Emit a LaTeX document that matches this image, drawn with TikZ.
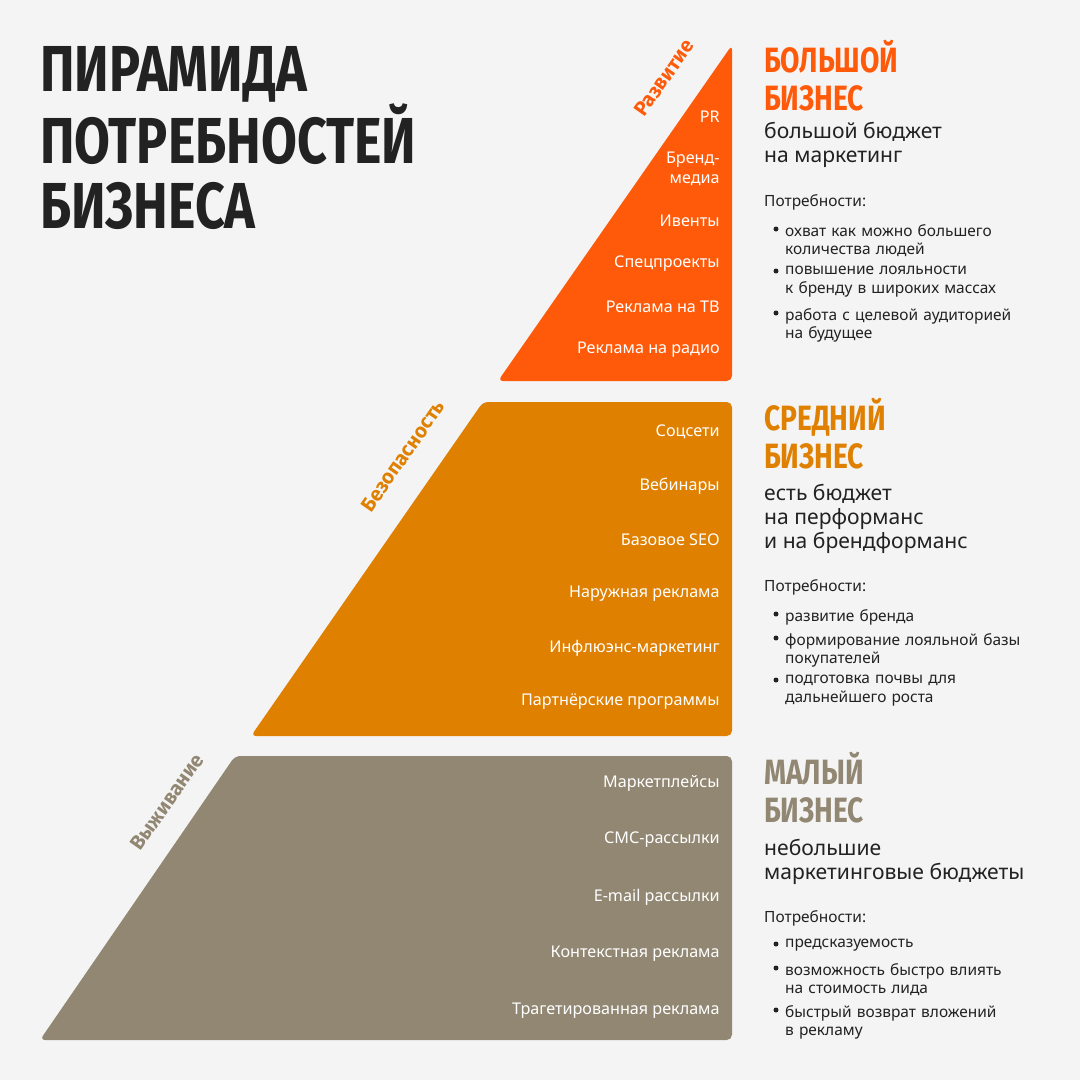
\documentclass[tikz,border=0pt]{standalone}
\usepackage{fontspec}
\setmainfont{Noto Sans}
\newfontfamily\narrowfont{Fira Sans}[FakeStretch=0.8]
\newfontfamily\tierfont{Fira Sans}
\usetikzlibrary{positioning}
\definecolor{bg}{HTML}{F4F4F4}
\definecolor{topc}{HTML}{FF5A0A}
\definecolor{midc}{HTML}{E08000}
\definecolor{lowc}{HTML}{918773}
\definecolor{ink}{HTML}{222222}
\tikzset{
  item/.style = {anchor=east, inner sep=0pt, text=white, font=\fontsize{9.2}{11}\selectfont, align=right},
  tier/.style = {anchor=center, font=\tierfont\bfseries\fontsize{11.5}{14}\selectfont, rotate=55},
  head/.style = {anchor=north west, font=\narrowfont\bfseries\fontsize{20}{21.5}\selectfont, align=left},
  budget/.style = {anchor=north west, text=ink, font=\fontsize{12}{13.6}\selectfont, align=left},
  need/.style = {anchor=north west, text=ink, font=\fontsize{8.8}{10.5}\selectfont, align=left},
  point/.style = {anchor=north west, text=ink, font=\fontsize{8.8}{10.5}\selectfont, align=left, text width=4.9cm}
}
\begin{document}
\begin{tikzpicture}[x=0.02cm, y=-0.02cm]
  \fill[bg] (0,0) rectangle (1080,1080);
  % pyramid
  \fill[topc, rounded corners=3] (732,45) -- (732,381) -- (498,381) -- cycle;
  \fill[midc, rounded corners=3] (483,402) -- (732,402) -- (732,736) -- (251,736) -- cycle;
  \fill[lowc, rounded corners=3] (235,756) -- (732,756) -- (732,1040) -- (40,1040) -- cycle;
  % title
  \node (title) [anchor=north west, text=ink, align=left,
    font=\narrowfont\bfseries\fontsize{37}{37}\selectfont] at (34,40)
    {ПИРАМИДА\\ПОТРЕБНОСТЕЙ\\БИЗНЕСА};
  % tier names
  \node (t1) [tier, text=topc] at (664,78) {Развитие};
  \node (t2) [tier, text=midc] at (403,456) {Безопасность};
  \node (t3) [tier, text=lowc] at (167,802) {Выживание};
  % items
  \node (a1) [item] at (720,117) {PR};
  \node (a2) [item] at (720,169) {Бренд-\\медиа};
  \node (a3) [item] at (720,221) {Ивенты};
  \node (a4) [item] at (720,264) {Спецпроекты};
  \node (a5) [item] at (720,307) {Реклама на ТВ};
  \node (a6) [item] at (720,350) {Реклама на радио};
  \node (b1) [item] at (720,432) {Соцсети};
  \node (b2) [item] at (720,486) {Вебинары};
  \node (b3) [item] at (720,540) {Базовое SEO};
  \node (b4) [item] at (720,594) {Наружная реклама};
  \node (b5) [item] at (720,648) {Инфлюэнс-маркетинг};
  \node (b6) [item] at (720,702) {Партнёрские программы};
  \node (c1) [item] at (720,783) {Маркетплейсы};
  \node (c2) [item] at (720,840) {СМС-рассылки};
  \node (c3) [item] at (720,897) {E-mail рассылки};
  \node (c4) [item] at (720,954) {Контекстная реклама};
  \node (c5) [item] at (720,1011) {Трагетированная реклама};
  % big business
  \node (h1) [head, text=topc] at (758,34) {БОЛЬШОЙ\\БИЗНЕС};
  \node (d1) [budget] at (758,116) {большой бюджет\\на маркетинг};
  \node (n1) [need] at (758,188) {Потребности:};
  \foreach \y/\txt in {218/{охват как можно большего\\количества людей},
                       260/{повышение лояльности\\к бренду в широких массах},
                       302/{работа с целевой аудиторией\\на будущее}}
    \node [point] at (779,\y) {\txt};
  \foreach \y in {229,271,313} \fill[ink] (776,\y) circle (2.5);
  % middle business
  \node (h2) [head, text=midc] at (758,392) {СРЕДНИЙ\\БИЗНЕС};
  \node (d2) [budget] at (758,478) {есть бюджет\\на перформанс\\и на брендформанс};
  \node (n2) [need] at (758,573) {Потребности:};
  \foreach \y/\txt in {603/{развитие бренда},
                       627/{формирование лояльной базы\\покупателей},
                       669/{подготовка почвы для\\дальнейшего роста}}
    \node [point] at (779,\y) {\txt};
  \foreach \y in {614,638,680} \fill[ink] (776,\y) circle (2.5);
  % small business
  \node (h3) [head, text=lowc] at (758,746) {МАЛЫЙ\\БИЗНЕС};
  \node (d3) [budget] at (758,833) {небольшие\\маркетинговые бюджеты};
  \node (n3) [need] at (758,904) {Потребности:};
  \foreach \y/\txt in {933/{предсказуемость},
                       957/{возможность быстро влиять\\на стоимость лида},
                       999/{быстрый возврат вложений\\в рекламу}}
    \node [point] at (779,\y) {\txt};
  \foreach \y in {944,968,1010} \fill[ink] (776,\y) circle (2.5);
\end{tikzpicture}
\end{document}
